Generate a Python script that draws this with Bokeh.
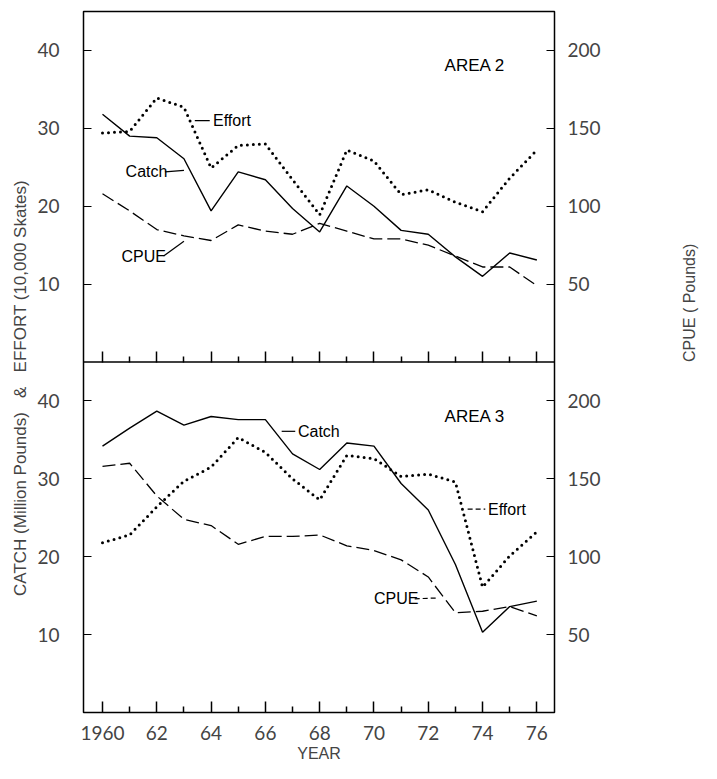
import math
from bokeh.plotting import figure
from bokeh.models import (Range1d, LinearAxis, FixedTicker, Span, Label, Segment,
                          ColumnDataSource)
from bokeh.embed import file_html
from bokeh.resources import INLINE

# ---------------- data ----------------
years = list(range(1960, 1977))

# Area 2 (top panel)
catch_area2 = [31.8, 29.0, 28.8, 26.1, 19.4, 24.4, 23.4, 19.7, 16.7, 22.6, 20.0, 16.9, 16.4, 13.5, 11.0, 14.0, 13.1]
effort_area2 = [29.4, 29.6, 33.9, 32.7, 24.9, 27.8, 28.0, 23.4, 18.9, 27.2, 25.8, 21.5, 22.1, 20.5, 19.3, 23.6, 27.2]
cpue_area2 = [108, 97, 85, 81, 78, 88, 84, 82, 89, 84, 79, 79, 75, 68, 61, 61, 49]

# Area 3 (bottom panel)
catch_area3 = [34.2, 36.5, 38.7, 36.9, 38.0, 37.6, 37.6, 33.2, 31.2, 34.6, 34.2, 29.4, 26.0, 19.0, 10.3, 13.6, 14.3]
effort_area3 = [21.8, 22.8, 26.4, 29.7, 31.5, 35.3, 33.4, 30.0, 27.3, 33.0, 32.6, 30.3, 30.6, 29.6, 16.1, 20.1, 23.2]
cpue_area3 = [158, 160, 139, 124, 120, 108, 113, 113, 114, 107, 104, 98, 87, 64, 65, 68, 62]

left_ticks = [10, 20, 30, 40]
right_ticks = [50, 100, 150, 200]
major_years = [1960, 1962, 1964, 1966, 1968, 1970, 1972, 1974, 1976]
minor_years = [1961, 1963, 1965, 1967, 1969, 1971, 1973, 1975]
year_labels = ["1960", "62", "64", "66", "68", "70", "72", "74", "76"]

# each panel spans 45 units of catch/effort (225 pounds of CPUE)
PANEL = 45
PANEL_CPUE = 225

TICK_FONT = "Lato"
LABEL_FONT = "Liberation Sans"
NB = "\u00a0"

p = figure(width=709, height=771, output_backend="svg", toolbar_location=None,
           x_range=Range1d(1959.3, 1976.65), y_range=Range1d(0, 2 * PANEL),
           min_border_left=83, min_border_right=149, min_border_top=11,
           min_border_bottom=59)
p.extra_y_ranges = {"cpue": Range1d(0, 2 * PANEL_CPUE)}
p.grid.visible = False
p.outline_line_color = "black"
p.outline_line_width = 1.5
p.background_fill_color = "white"
p.border_fill_color = "white"

# ---- left axis ----
ly = p.yaxis[0]
ly.ticker = FixedTicker(ticks=left_ticks + [t + PANEL for t in left_ticks], minor_ticks=[])
ly.major_label_overrides = {**{t: str(t) for t in left_ticks}, **{t + PANEL: str(t) for t in left_ticks}}
ly.major_tick_in = 8
ly.major_tick_out = 0
ly.minor_tick_in = 0
ly.minor_tick_out = 0
ly.axis_line_color = None
ly.major_label_text_font = TICK_FONT
ly.major_label_text_font_size = "19px"
ly.major_label_standoff = 24
ly.axis_label = "CATCH (Million Pounds)" + NB * 3 + "\u0026" + NB * 3 + "EFFORT (10,000 Skates)" + NB * 11
ly.axis_label_text_font = LABEL_FONT
ly.axis_label_text_font_size = "17px"
ly.axis_label_text_font_style = "normal"
ly.axis_label_standoff = 4

# ---- right axis ----
ry = LinearAxis(y_range_name="cpue")
ry.ticker = FixedTicker(ticks=right_ticks + [t + PANEL_CPUE for t in right_ticks], minor_ticks=[])
ry.major_label_overrides = {**{t: str(t) for t in right_ticks}, **{t + PANEL_CPUE: str(t) for t in right_ticks}}
ry.major_tick_in = 8
ry.major_tick_out = 0
ry.minor_tick_in = 0
ry.minor_tick_out = 0
ry.axis_line_color = None
ry.major_label_text_font = TICK_FONT
ry.major_label_text_font_size = "19px"
ry.major_label_standoff = 13
ry.axis_label = "CPUE ( Pounds)"
ry.axis_label_text_font = LABEL_FONT
ry.axis_label_text_font_size = "16px"
ry.axis_label_text_font_style = "normal"
ry.axis_label_standoff = 86
try:
    ry.axis_label_orientation = math.pi / 2
except Exception:
    pass
p.add_layout(ry, "right")

# ---- bottom axis ----
bx = p.xaxis[0]
bx.ticker = FixedTicker(ticks=major_years, minor_ticks=minor_years)
bx.major_label_overrides = dict(zip(major_years, year_labels))
bx.major_tick_in = 11
bx.major_tick_out = 0
bx.minor_tick_in = 6
bx.minor_tick_out = 0
bx.major_tick_line_width = 1.5
bx.minor_tick_line_width = 1.5
bx.axis_line_color = None
bx.major_label_text_font = TICK_FONT
bx.major_label_text_font_size = "19px"
bx.major_label_standoff = 13
bx.axis_label = "YEAR"
bx.axis_label_text_font = LABEL_FONT
bx.axis_label_text_font_size = "16px"
bx.axis_label_text_font_style = "normal"
bx.axis_label_standoff = 2

# ---- ticks for the top panel's year axis ----
mx = LinearAxis(fixed_location=PANEL)
mx.ticker = FixedTicker(ticks=major_years, minor_ticks=minor_years)
mx.major_tick_in = 11
mx.major_tick_out = 0
mx.minor_tick_in = 6
mx.minor_tick_out = 0
mx.major_tick_line_width = 1.5
mx.minor_tick_line_width = 1.5
mx.axis_line_color = None
mx.major_label_text_font_size = "0px"
mx.major_label_text_alpha = 0
mx.major_label_standoff = 0
p.add_layout(mx, "below")

p.add_layout(Span(location=PANEL, dimension="width", line_color="black", line_width=1.5))

# ---- series ----
DOT = dict(line_color="black", line_width=3, line_dash="0 6", line_cap="round")
SOLID = dict(line_color="black", line_width=1.4)
DASH = dict(line_color="black", line_width=1.3, line_dash="13 5")

# top panel
p.line(years, [v + PANEL for v in catch_area2], **SOLID)
p.line(years, [v + PANEL for v in effort_area2], **DOT)
p.line(years, [v + PANEL_CPUE for v in cpue_area2], y_range_name="cpue", **DASH)
# bottom panel
p.line(years, catch_area3, **SOLID)
p.line(years, effort_area3, **DOT)
p.line(years, cpue_area3, y_range_name="cpue", **DASH)

# ---- annotations ----
def lab(x, y, t, size="16px", font=LABEL_FONT):
    p.add_layout(Label(x=x, y=y, text=t, text_font=font, text_font_size=size,
                       text_baseline="middle", text_align="left", text_color="black"))

lab(1972.6, 83.1, "AREA 2", size="17px")
lab(1972.6, 38.0, "AREA 3", size="17px")

lab(1964.07, 76.0, "Effort")
lab(1960.85, 69.5, "Catch")
lab(1960.7, 58.6, "CPUE")
lab(1967.2, 36.1, "Catch")
lab(1974.2, 26.1, "Effort")
lab(1970.0, 14.6, "CPUE")

leader = ColumnDataSource(dict(
    x0=[1963.4, 1962.3, 1962.25, 1966.6],
    y0=[76.0, 69.4, 58.6, 36.1],
    x1=[1963.95, 1963.0, 1963.0, 1967.1],
    y1=[76.0, 69.6, 60.5, 36.1],
))
p.add_glyph(leader, Segment(x0="x0", y0="y0", x1="x1", y1="y1", line_color="black", line_width=1.2))

leader_d = ColumnDataSource(dict(
    x0=[1973.45, 1971.5],
    y0=[26.1, 14.6],
    x1=[1974.1, 1972.3],
    y1=[26.1, 14.7],
))
p.add_glyph(leader_d, Segment(x0="x0", y0="y0", x1="x1", y1="y1", line_color="black",
                              line_width=1.2, line_dash="5 3"))

open("out.html", "w").write(file_html(p, INLINE))
